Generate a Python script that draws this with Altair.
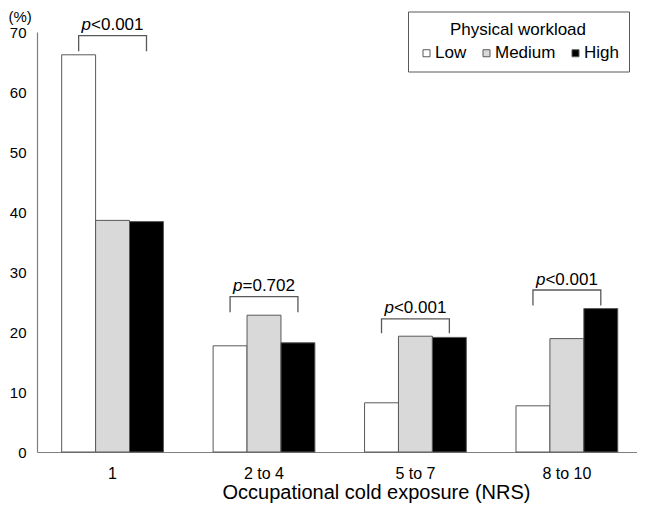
import altair as alt
import pandas as pd

# ---- data ----
groups = ["1", "2 to 4", "5 to 7", "8 to 10"]
workloads = ["Low", "Medium", "High"]
low_vals = [66.2, 17.7, 8.2, 7.7]
medium_vals = [38.6, 22.8, 19.3, 18.9]
high_vals = [38.4, 18.2, 19.1, 23.9]
p_ops = ["<0.001", "=0.702", "<0.001", "<0.001"]
bracket_leg = [66.8, 23.3, 19.8, 24.4]
bracket_top = [69.4, 25.9, 22.2, 27.0]
y_ticks = [0, 10, 20, 30, 40, 50, 60, 70]

# ---- tables ----
rows = []
for i, g in enumerate(groups):
    for w, vals in zip(workloads, [low_vals, medium_vals, high_vals]):
        rows.append({"group": g, "workload": w, "value": vals[i]})
bar_df = pd.DataFrame(rows)

brows = []
for i, g in enumerate(groups):
    brows.append({"group": g, "workload": "Low", "y": bracket_leg[i], "seq": 0})
    brows.append({"group": g, "workload": "Low", "y": bracket_top[i], "seq": 1})
    brows.append({"group": g, "workload": "High", "y": bracket_top[i], "seq": 2})
    brows.append({"group": g, "workload": "High", "y": bracket_leg[i], "seq": 3})
br_df = pd.DataFrame(brows)

txt_df = pd.DataFrame({"group": groups, "y": bracket_top, "op": p_ops})

FONT = "Liberation Sans"
GRAY = "#595959"
AXC = "#7f7f7f"

x_scale = alt.Scale(domain=groups, paddingInner=0.328, paddingOuter=0.145, align=0.562)
xoff_scale = alt.Scale(domain=workloads)
y_scale = alt.Scale(domain=[0, 70], nice=False, zero=True)

x_axis = alt.Axis(
    ticks=False, grid=False, labelAngle=0, labelFontSize=16, labelPadding=13,
    labelColor="black", domainColor=AXC, domainWidth=1,
    title="Occupational cold exposure (NRS)", titleFontSize=20,
    titleFontWeight="normal", titleColor="black",
    titleX=339, titleY=46, titleAlign="center", titleBaseline="alphabetic",
)
y_axis = alt.Axis(
    values=y_ticks, ticks=False, grid=False, labelFontSize=15, labelPadding=11,
    labelColor="black", domainColor=AXC, domainWidth=1.2,
    title="(%)", titleAngle=0, titleFontSize=15, titleFontWeight="normal",
    titleColor="black", titleX=-29, titleY=-11, titleAlign="left",
    titleBaseline="alphabetic",
)

legend = alt.Legend(
    title="Physical workload", orient="none", legendX=371, legendY=-20.5,
    direction="horizontal", symbolType="square", symbolSize=49,
    symbolStrokeColor=GRAY, symbolStrokeWidth=1, symbolOpacity=1,
    labelFontSize=17, titleFontSize=17, titleFontWeight="normal",
    titleAnchor="middle", titleAlign="center", labelOffset=0, columnPadding=11,
    padding=10, strokeColor=GRAY, fillColor="white", titlePadding=6,
    labelColor="black", titleColor="black",
)

bars = alt.Chart(bar_df).mark_bar(stroke=GRAY, strokeWidth=1, opacity=1).encode(
    x=alt.X("group:N", scale=x_scale, sort=groups, axis=x_axis),
    xOffset=alt.XOffset("workload:N", scale=xoff_scale, sort=workloads),
    y=alt.Y("value:Q", scale=y_scale, axis=y_axis),
    color=alt.Color("workload:N", sort=workloads,
                    scale=alt.Scale(domain=workloads, range=["#ffffff", "#d9d9d9", "#000000"]),
                    legend=legend),
)

brackets = alt.Chart(br_df).mark_line(color=GRAY, strokeWidth=1.3).encode(
    x=alt.X("group:N", scale=x_scale, sort=groups),
    xOffset=alt.XOffset("workload:N", scale=xoff_scale, sort=workloads),
    y=alt.Y("y:Q", scale=y_scale),
    detail="group:N",
    order="seq:Q",
)

p_text = alt.Chart(txt_df).mark_text(
    fontStyle="italic", align="right", baseline="alphabetic", dx=-21.5, dy=-5.5,
    fontSize=17, font=FONT, color="black",
).encode(
    x=alt.X("group:N", scale=x_scale, sort=groups),
    y=alt.Y("y:Q", scale=y_scale),
    text=alt.value("p"),
)

op_text = alt.Chart(txt_df).mark_text(
    align="left", baseline="alphabetic", dx=-21.5, dy=-5.5,
    fontSize=17, font=FONT, color="black",
).encode(
    x=alt.X("group:N", scale=x_scale, sort=groups),
    y=alt.Y("y:Q", scale=y_scale),
    text="op:N",
)

chart = alt.layer(bars, brackets, p_text, op_text).properties(
    width=600, height=420,
    autosize=alt.AutoSizeParams(type="none"),
    padding={"left": 29, "top": 24, "right": 0, "bottom": 52},
).configure(font=FONT).configure_view(stroke=None)

chart.save("out.html", embed_options={"renderer": "svg", "actions": False})
